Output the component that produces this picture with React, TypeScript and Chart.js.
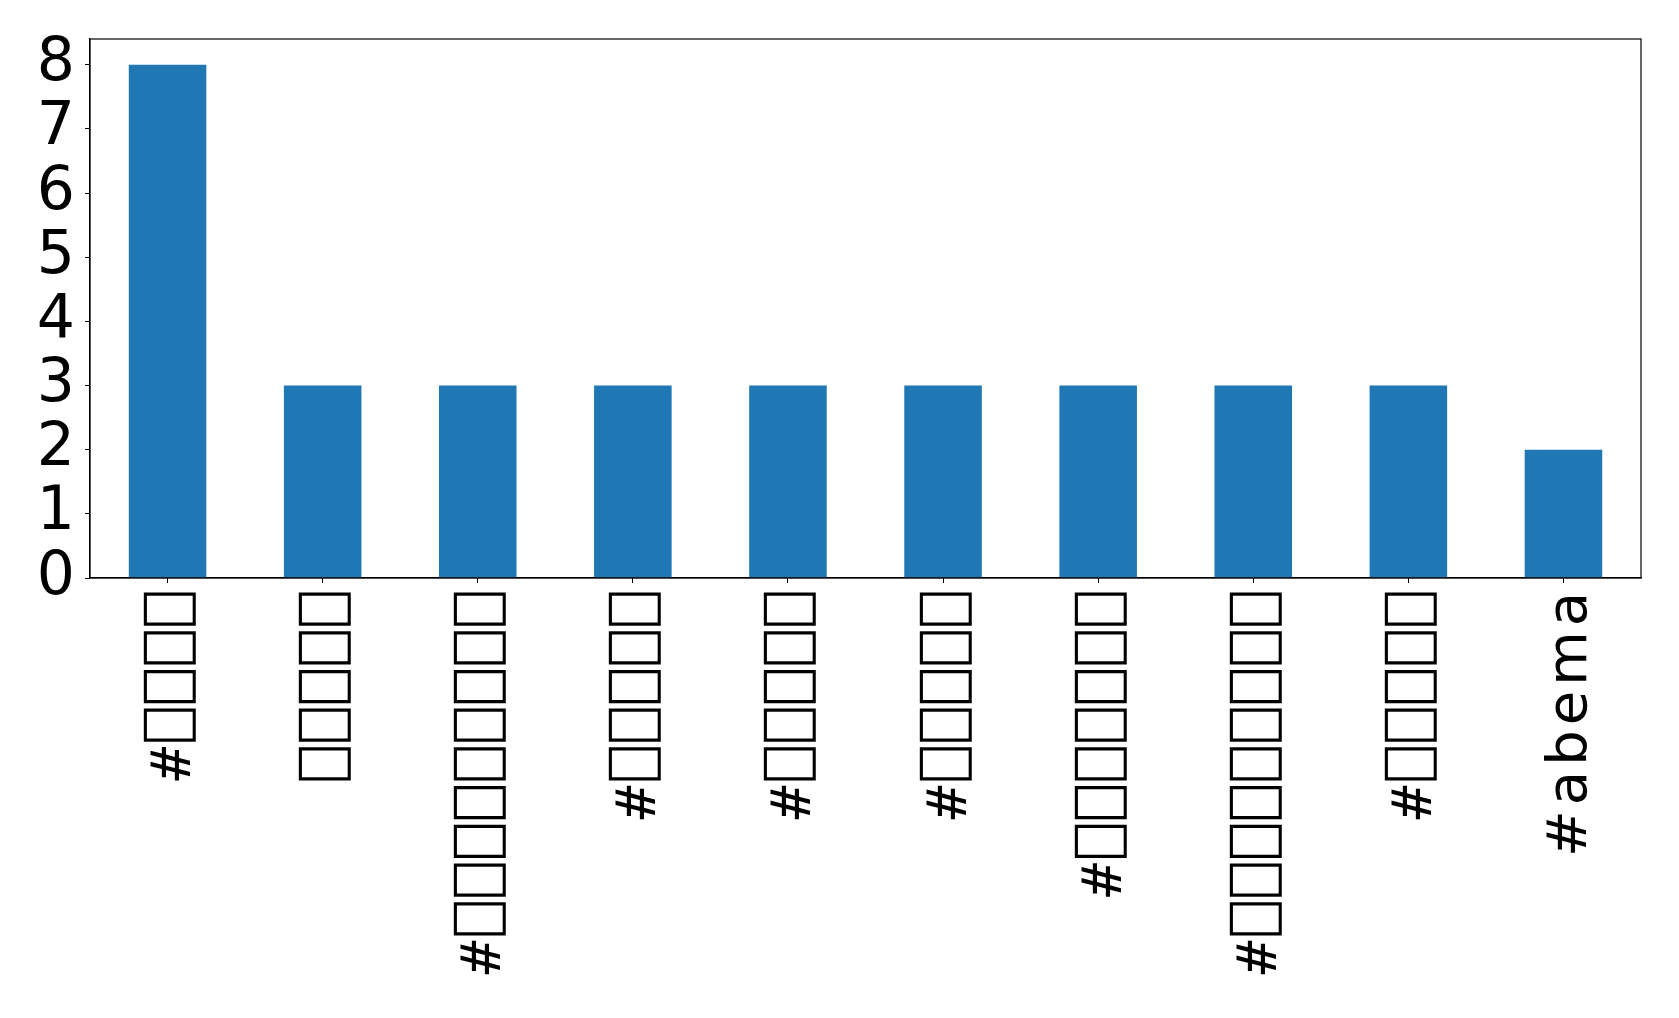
import React, { useEffect, useRef } from "react";
import { Chart, registerables } from "chart.js";

Chart.register(...registerables);

const categories: string[] = [
  "#⎕⎕⎕⎕",
  "⎕⎕⎕⎕⎕",
  "#⎕⎕⎕⎕⎕⎕⎕⎕⎕",
  "#⎕⎕⎕⎕⎕",
  "#⎕⎕⎕⎕⎕",
  "#⎕⎕⎕⎕⎕",
  "#⎕⎕⎕⎕⎕⎕⎕",
  "#⎕⎕⎕⎕⎕⎕⎕⎕⎕",
  "#⎕⎕⎕⎕⎕",
  "#abema",
];
const counts: number[] = [8, 3, 3, 3, 3, 3, 3, 3, 3, 2];
const yTicks: number[] = [0, 1, 2, 3, 4, 5, 6, 7, 8];
const yMax = 8.4;

const W = 1679;
const H = 1018;

const framePlugin = {
  id: "frame",
  afterDatasetsDraw(chart: any) {
    const { ctx, chartArea } = chart;
    ctx.save();
    ctx.strokeStyle = "#000";
    ctx.lineWidth = 1.2;
    ctx.strokeRect(chartArea.left, chartArea.top, chartArea.right - chartArea.left, chartArea.bottom - chartArea.top);
    ctx.restore();
    // spacing for the x tick labels, which are drawn after this hook (z: 1)
    (ctx as any).letterSpacing = "5px";
  },
  afterDraw(chart: any) {
    (chart.ctx as any).letterSpacing = "0px";
  },
};

export default function App() {
  const ref = useRef<HTMLCanvasElement>(null);
  useEffect(() => {
    document.body.style.margin = "0";
    const canvas = ref.current!;
    const chart = new Chart(canvas, {
      type: "bar",
      data: {
        labels: categories,
        datasets: [
          {
            data: counts,
            backgroundColor: "#1f77b4",
            borderWidth: 0,
            barPercentage: 0.5,
            categoryPercentage: 1,
          },
        ],
      },
      options: {
        animation: false,
        responsive: false,
        devicePixelRatio: 1,
        layout: { padding: { top: 39, right: 38, left: 0, bottom: 0 } },
        plugins: { legend: { display: false }, tooltip: { enabled: false } },
        scales: {
          x: {
            grid: { display: true, offset: false, drawOnChartArea: false, drawTicks: true, tickLength: 5, color: "#000", lineWidth: 1 },
            border: { display: true, color: "#000", width: 1.2 },
            ticks: {
              z: 1,
              autoSkip: false,
              minRotation: 90,
              maxRotation: 90,
              padding: 4,
              labelOffset: 8,
              color: "#000",
              font: (c: any) =>
                /⎕/.test(categories[c.index] ?? "")
                  ? { family: "'DejaVu Sans Mono'", size: 56 }
                  : { family: "'DejaVu Sans'", size: 56 },
            },
            afterFit: (s: any) => {
              s.height = 440;
            },
          },
          y: {
            min: 0,
            max: yMax,
            grid: { display: true, drawOnChartArea: false, drawTicks: true, tickLength: 5, color: "#000", lineWidth: 1 },
            border: { display: true, color: "#000", width: 1.2 },
            ticks: {
              autoSkip: false,
              stepSize: 1,
              padding: 10,
              color: "#000",
              font: { family: "'DejaVu Sans'", size: 60, lineHeight: 0.9 },
            },
            afterBuildTicks: (s: any) => {
              s.ticks = yTicks.map((v) => ({ value: v }));
            },
            afterFit: (s: any) => {
              s.width = 90;
            },
          },
        },
      },
      plugins: [framePlugin],
    });
    return () => chart.destroy();
  }, []);
  return (
    <div style={{ width: W, height: H }}>
      <canvas ref={ref} width={W} height={H} style={{ display: "block" }} />
    </div>
  );
}
